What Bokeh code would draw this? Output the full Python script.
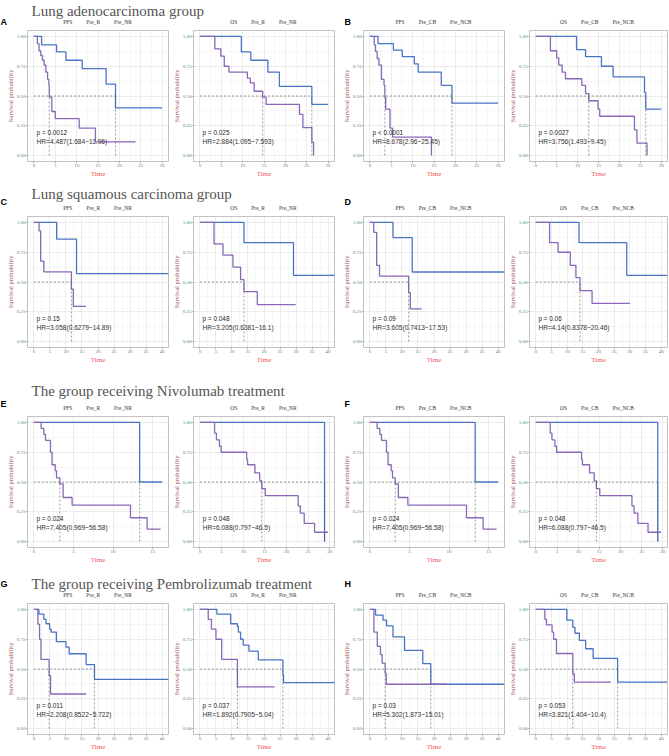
from bokeh.plotting import figure
from bokeh.layouts import column, row
from bokeh.models import Legend, LegendItem, Label, Range1d, FixedTicker, PrintfTickFormatter
from bokeh.embed import file_html
from bokeh.resources import INLINE

# ---------------- data ----------------
group_titles = ["Lung adenocarcinoma group", "Lung squamous carcinoma group",
                "The group receiving Nivolumab treatment", "The group receiving Pembrolizumab treatment"]
labels_R = ["Pre_R", "Pre_NR"]
labels_CB = ["Pre_CB", "Pre_NCB"]
y_ticks = [0, 0.25, 0.5, 0.75, 1.0]
x_ticks_30 = [0, 5, 10, 15, 20, 25, 30]
x_ticks_40 = [0, 5, 10, 15, 20, 25, 30, 35, 40]
x_ticks_15 = [0, 5, 10, 15]

# A  (lung adenocarcinoma, responders)
A_PFS_R_t = [0, 1.8, 5.3, 7.5, 11.3, 16.9, 19.1, 30]
A_PFS_R_s = [1, 0.93, 0.87, 0.80, 0.73, 0.60, 0.40, 0.40]
A_PFS_NR_t = [0, 0.8, 1.2, 1.6, 2.0, 2.4, 2.8, 3.2, 3.5, 3.6, 4.2, 5.0, 10.6, 14.4, 23.8]
A_PFS_NR_s = [1, 0.94, 0.88, 0.84, 0.80, 0.76, 0.70, 0.64, 0.59, 0.49, 0.37, 0.31, 0.23, 0.115, 0.115]
A_OS_R_t = [0, 9.7, 11.9, 15.9, 18.6, 26.2, 30]
A_OS_R_s = [1, 0.87, 0.80, 0.70, 0.58, 0.43, 0.43]
A_OS_NR_t = [0, 3.5, 4.9, 5.7, 6.8, 11.1, 11.8, 12.7, 14.7, 15.5, 23.3, 24.1, 26.2, 26.6]
A_OS_NR_s = [1, 0.895, 0.835, 0.75, 0.70, 0.65, 0.61, 0.54, 0.49, 0.43, 0.345, 0.235, 0.11, 0.0]
# B  (lung adenocarcinoma, clinical benefit)
B_PFS_CB_t = [0, 1.9, 5.5, 7.6, 10.4, 11.3, 16.7, 19.2, 30]
B_PFS_CB_s = [1, 0.94, 0.885, 0.83, 0.77, 0.70, 0.59, 0.44, 0.44]
B_PFS_NCB_t = [0, 1.0, 1.3, 1.7, 2.1, 2.7, 3.3, 3.5, 3.7, 4.7, 5.3, 14.4]
B_PFS_NCB_s = [1, 0.93, 0.875, 0.815, 0.76, 0.64, 0.59, 0.49, 0.39, 0.23, 0.155, 0.0]
B_OS_CB_t = [0, 9.75, 11.9, 15.7, 18.5, 26.0, 26.3, 30]
B_OS_CB_s = [1, 0.89, 0.83, 0.75, 0.66, 0.53, 0.39, 0.39]
B_OS_NCB_t = [0, 3.5, 5.0, 5.5, 6.3, 7.1, 11.0, 11.9, 12.7, 14.9, 15.3, 23.6, 24.2, 26.6]
B_OS_NCB_s = [1, 0.88, 0.82, 0.76, 0.70, 0.645, 0.59, 0.52, 0.46, 0.39, 0.33, 0.215, 0.105, 0.0]
# C  (lung squamous, responders)
C_PFS_R_t = [0, 7.1, 13.3, 42]
C_PFS_R_s = [1, 0.86, 0.57, 0.57]
C_PFS_NR_t = [0, 1.6, 2.1, 3.1, 11.7, 12.3, 16.2]
C_PFS_NR_s = [1, 0.93, 0.675, 0.585, 0.44, 0.295, 0.295]
C_OS_R_t = [0, 13.75, 29.2, 42]
C_OS_R_s = [1, 0.83, 0.556, 0.556]
C_OS_NR_t = [0, 4.4, 7.2, 10.3, 12.7, 13.75, 17.9, 29.9]
C_OS_NR_s = [1, 0.82, 0.725, 0.625, 0.52, 0.42, 0.31, 0.31]
# D  (lung squamous, clinical benefit)
D_PFS_CB_t = [0, 7.2, 13.2, 42]
D_PFS_CB_s = [1, 0.873, 0.584, 0.584]
D_PFS_NCB_t = [0, 1.2, 2.1, 3.0, 12.1, 12.6, 16.2]
D_PFS_NCB_s = [1, 0.917, 0.64, 0.55, 0.41, 0.275, 0.275]
D_OS_CB_t = [0, 13.8, 29.0, 42]
D_OS_CB_s = [1, 0.83, 0.556, 0.556]
D_OS_NCB_t = [0, 4.4, 7.1, 11.0, 12.8, 14.1, 17.95, 30]
D_OS_NCB_s = [1, 0.83, 0.75, 0.64, 0.537, 0.427, 0.32, 0.32]
# E  (nivolumab, responders)
E_PFS_R_t = [0, 13.36, 16.2]
E_PFS_R_s = [1, 0.5, 0.5]
E_PFS_NR_t = [0, 0.92, 1.26, 1.47, 2.1, 2.3, 2.7, 2.86, 3.28, 3.7, 4.83, 12.2, 14.3, 16.0]
E_PFS_NR_s = [1, 0.95, 0.90, 0.85, 0.75, 0.645, 0.596, 0.535, 0.485, 0.37, 0.305, 0.20, 0.105, 0.105]
E_OS_R_t = [0, 28.8]
E_OS_R_s = [1, 0.0]
E_OS_NR_t = [0, 3.37, 3.8, 4.5, 4.9, 10.8, 11.0, 12.7, 13.8, 14.3, 15.1, 22.7, 23.2, 24.1, 26.5, 29.6]
E_OS_NR_s = [1, 0.91, 0.853, 0.80, 0.75, 0.69, 0.645, 0.576, 0.51, 0.445, 0.385, 0.30, 0.238, 0.152, 0.078, 0.078]
# F  (nivolumab, clinical benefit)
F_PFS_CB_t = [0, 13.3, 16.2]
F_PFS_CB_s = [1, 0.5, 0.5]
F_PFS_NCB_t = [0, 0.92, 1.26, 1.47, 2.1, 2.3, 2.7, 2.86, 3.2, 3.6, 4.8, 12.2, 14.3, 16.0]
F_PFS_NCB_s = [1, 0.95, 0.90, 0.85, 0.75, 0.645, 0.596, 0.535, 0.485, 0.37, 0.305, 0.20, 0.105, 0.105]
F_OS_CB_t = [0, 28.8]
F_OS_CB_s = [1, 0.0]
F_OS_NCB_t = [0, 3.4, 3.8, 4.5, 4.9, 10.8, 11.0, 12.7, 13.8, 14.3, 15.1, 22.7, 23.2, 24.1, 26.5, 29.6]
F_OS_NCB_s = [1, 0.91, 0.853, 0.80, 0.75, 0.69, 0.645, 0.576, 0.51, 0.445, 0.385, 0.30, 0.238, 0.152, 0.078, 0.078]
# G  (pembrolizumab, responders)
G_PFS_R_t = [0, 1.55, 3.1, 3.8, 4.9, 5.4, 7.0, 10.0, 11.0, 16.3, 18.9, 42]
G_PFS_R_s = [1, 0.96, 0.917, 0.88, 0.835, 0.81, 0.73, 0.683, 0.628, 0.537, 0.413, 0.413]
G_PFS_NR_t = [0, 1.24, 1.76, 2.2, 4.75, 5.2, 16.3]
G_PFS_NR_s = [1, 0.876, 0.75, 0.58, 0.444, 0.29, 0.29]
G_OS_R_t = [0, 5.3, 9.6, 11.7, 12.0, 12.7, 13.5, 15.3, 18.2, 25.9, 26.1, 42]
G_OS_R_s = [1, 0.96, 0.88, 0.857, 0.81, 0.75, 0.70, 0.65, 0.576, 0.45, 0.386, 0.386]
G_OS_NR_t = [0, 2.6, 3.6, 5.0, 6.8, 11.7, 23.3]
G_OS_NR_s = [1, 0.917, 0.835, 0.75, 0.58, 0.35, 0.35]
# H  (pembrolizumab, clinical benefit)
H_PFS_CB_t = [0, 1.76, 4.1, 5.2, 7.2, 10.8, 16.5, 19.0, 42]
H_PFS_CB_s = [1, 0.953, 0.91, 0.862, 0.77, 0.656, 0.545, 0.372, 0.372]
H_PFS_NCB_t = [0, 1.24, 2.3, 3.3, 3.8, 4.75, 5.1, 23.8]
H_PFS_NCB_s = [1, 0.81, 0.69, 0.62, 0.55, 0.463, 0.372, 0.372]
H_OS_CB_t = [0, 9.9, 11.8, 12.5, 13.9, 15.9, 18.3, 26.1, 42]
H_OS_CB_s = [1, 0.91, 0.85, 0.80, 0.74, 0.67, 0.59, 0.39, 0.39]
H_OS_NCB_t = [0, 2.9, 3.4, 5.2, 5.7, 6.6, 11.8, 12.3, 24.0]
H_OS_NCB_s = [1, 0.917, 0.87, 0.81, 0.75, 0.63, 0.46, 0.39, 0.39]

p_values = ["p = 0.0012", "p = 0.025", "p < 0.0001", "p = 0.0027",
            "p = 0.15", "p = 0.048", "p = 0.09", "p = 0.06",
            "p = 0.024", "p = 0.048", "p = 0.024", "p = 0.048",
            "p = 0.011", "p = 0.037", "p = 0.03", "p = 0.053"]
hr_texts = ["HR=4.487(1.684~11.96)", "HR=2.884(1.095~7.593)", "HR=8.678(2.96~25.45)", "HR=3.756(1.493~9.45)",
            "HR=3.058(0.6279~14.89)", "HR=3.205(0.6381~16.1)", "HR=3.605(0.7413~17.53)", "HR=4.14(0.8378~20.46)",
            "HR=7.405(0.969~56.58)", "HR=6.088(0.797~46.5)", "HR=7.405(0.969~56.58)", "HR=6.088(0.797~46.5)",
            "HR=2.208(0.8522~5.722)", "HR=1.892(0.7905~5.04)", "HR=5.302(1.873~15.01)", "HR=3.821(1.404~10.4)"]

# ---------------- style ----------------
SERIF = "Liberation Serif"
SANS = "Liberation Sans"
BLUE = "#4a74c6"
PURPLE = "#8a67b9"
TICK_COL = "#4f8a5c"
YLAB_COL = "#a5524e"
XLAB_COL = "#f0555a"
FRAME_H = 131
TOP = 3
BOTTOM = 20
TOTAL_W = 668
COLS = [dict(width=169, left=27, right=1), dict(width=166, left=24, right=1),
        dict(width=170, left=28, right=1), dict(width=163, left=22, right=1)]
HEADER_H = [27, 32, 46, 33]

LEG_FS = 5.5
LEG_GLYPH = 5
LEG_STANDOFF = 3
LEG_SPACING = 6
# Times-like advance widths (per 1000 em) for the legend strings
_W = {"P": 556, "F": 556, "S": 556, "O": 722, "r": 333, "e": 444, "_": 500,
      "R": 667, "N": 722, "C": 667, "B": 667}


def text_w(s):
    return sum(_W.get(ch, 500) for ch in s) / 1000 * LEG_FS


def median_time(t, s):
    for ti, si in zip(t, s):
        if si <= 0.5:
            return ti
    return None


def minors(ticks):
    return [(a + b) / 2 for a, b in zip(ticks[:-1], ticks[1:])]


def panel(ci, curves, xr, xticks, ptxt, hrtxt):
    c = COLS[ci]
    p = figure(width=c["width"], height=TOP + FRAME_H + BOTTOM,
               x_range=Range1d(*xr), y_range=Range1d(-0.05, 1.05),
               min_border_left=c["left"], min_border_right=c["right"],
               min_border_top=TOP, min_border_bottom=BOTTOM,
               toolbar_location=None, output_backend="svg")
    p.outline_line_color = "#c2c2c2"
    p.outline_line_width = 1
    p.xaxis.ticker = FixedTicker(ticks=xticks, minor_ticks=minors(xticks))
    p.yaxis.ticker = FixedTicker(ticks=y_ticks, minor_ticks=minors(y_ticks))
    p.yaxis.formatter = PrintfTickFormatter(format="%.2f")
    for g in (p.xgrid[0], p.ygrid[0]):
        g.grid_line_color = "#e4e4e4"
        g.grid_line_width = 0.7
        g.minor_grid_line_color = "#efefef"
        g.minor_grid_line_width = 0.5
    for ax in (p.xaxis[0], p.yaxis[0]):
        ax.axis_line_color = None
        ax.major_tick_line_color = "#777777"
        ax.major_tick_line_width = 0.5
        ax.major_tick_out = 2
        ax.major_tick_in = 0
        ax.minor_tick_line_color = None
        ax.minor_tick_out = 0
        ax.minor_tick_in = 0
        ax.major_label_text_font = SERIF
        ax.major_label_text_font_size = "5px"
        ax.major_label_text_color = TICK_COL
        ax.major_label_standoff = 0
        ax.axis_label_text_font = SERIF
        ax.axis_label_text_font_style = "normal"
        ax.axis_label_standoff = 0
    p.xaxis.axis_label = "Time"
    p.xaxis.axis_label_text_font_size = "7px"
    p.xaxis.axis_label_text_color = XLAB_COL
    p.yaxis.axis_label = "Survival probability"
    p.yaxis.axis_label_text_font_size = "6.6px"
    p.yaxis.axis_label_text_color = YLAB_COL

    for (t, s), col in zip(curves, (BLUE, PURPLE)):
        p.step(t, s, mode="after", line_color=col, line_width=1.3)

    meds = [m for m in (median_time(t, s) for t, s in curves) if m is not None]
    if meds:
        p.line([0, max(meds)], [0.5, 0.5], line_color="#555555", line_width=0.6, line_dash="2 2")
        for m in meds:
            p.line([m, m], [0, 0.5], line_color="#555555", line_width=0.6, line_dash="2 2")

    xt = xr[1] * 0.02
    p.add_layout(Label(x=xt, y=0.19, text=ptxt, text_font=SANS, text_font_size="6.4px",
                       text_baseline="middle", text_color="#222222"))
    p.add_layout(Label(x=xt, y=0.118, text=hrtxt, text_font=SANS, text_font_size="6.6px",
                       text_baseline="middle", text_color="#333333"))
    return p


def header(h, title, title_y, legend_specs, letters, letter_y, legend_y=1.8):
    p = figure(width=TOTAL_W, height=h, x_range=Range1d(0, TOTAL_W), y_range=Range1d(0, h),
               x_axis_type=None, y_axis_type=None, min_border=0,
               toolbar_location=None, output_backend="svg")
    p.outline_line_color = None
    p.add_layout(Label(x=31, y=title_y, text=title, text_font=SERIF, text_font_size="15px",
                       text_baseline="middle", text_color="#555555"))
    for lx, lt in zip((0, 344), letters):
        p.add_layout(Label(x=lx, y=letter_y, text=lt, text_font=SANS, text_font_style="bold",
                           text_font_size="9px", text_baseline="middle", text_color="#000000"))
    # one legend row per panel column, centred over that panel's frame
    start = 0
    for c, (ltitle, labels) in zip(COLS, legend_specs):
        frame_w = c["width"] - c["left"] - c["right"]
        center = start + c["left"] + frame_w / 2
        start += c["width"]
        dummy = p.line([], [], line_alpha=0)
        k0 = p.line([], [], line_color=BLUE, line_width=1.3)
        k1 = p.line([], [], line_color=PURPLE, line_width=1.3)
        item_w = LEG_GLYPH + LEG_STANDOFF
        visible_w = (text_w(ltitle) + LEG_SPACING + item_w + text_w(labels[0])
                     + LEG_SPACING + item_w + text_w(labels[1]))
        lx = center - visible_w / 2 - item_w
        legend = Legend(items=[LegendItem(label=ltitle, renderers=[dummy]),
                               LegendItem(label=labels[0], renderers=[k0]),
                               LegendItem(label=labels[1], renderers=[k1])],
                        orientation="horizontal", location=(lx, legend_y),
                        label_text_font=SERIF, label_text_font_size=f"{LEG_FS}px", label_text_color="#333333",
                        glyph_width=LEG_GLYPH, glyph_height=5, label_standoff=LEG_STANDOFF,
                        spacing=LEG_SPACING, label_height=6, label_width=1, padding=0, margin=0,
                        border_line_color=None, background_fill_alpha=0)
        p.add_layout(legend)
    return p


XR30 = (-1.5, 31.5)
XR40 = (-2.0, 42.0)
XR15 = (-0.8, 17.0)
XR29 = (-1.5, 31.1)

SPEC_R = [("PFS", labels_R), ("OS", labels_R), ("PFS", labels_CB), ("OS", labels_CB)]

h1 = header(HEADER_H[0], group_titles[0], 16.5, SPEC_R, ["A", "B"], 5.7)
r1 = row(
    panel(0, [(A_PFS_R_t, A_PFS_R_s), (A_PFS_NR_t, A_PFS_NR_s)], XR30, x_ticks_30, p_values[0], hr_texts[0]),
    panel(1, [(A_OS_R_t, A_OS_R_s), (A_OS_NR_t, A_OS_NR_s)], XR30, x_ticks_30, p_values[1], hr_texts[1]),
    panel(2, [(B_PFS_CB_t, B_PFS_CB_s), (B_PFS_NCB_t, B_PFS_NCB_s)], XR30, x_ticks_30, p_values[2], hr_texts[2]),
    panel(3, [(B_OS_CB_t, B_OS_CB_s), (B_OS_NCB_t, B_OS_NCB_s)], XR30, x_ticks_30, p_values[3], hr_texts[3]),
)
h2 = header(HEADER_H[1], group_titles[1], 19.5, SPEC_R, ["C", "D"], 11.5)
r2 = row(
    panel(0, [(C_PFS_R_t, C_PFS_R_s), (C_PFS_NR_t, C_PFS_NR_s)], XR40, x_ticks_40, p_values[4], hr_texts[4]),
    panel(1, [(C_OS_R_t, C_OS_R_s), (C_OS_NR_t, C_OS_NR_s)], XR40, x_ticks_40, p_values[5], hr_texts[5]),
    panel(2, [(D_PFS_CB_t, D_PFS_CB_s), (D_PFS_NCB_t, D_PFS_NCB_s)], XR40, x_ticks_40, p_values[6], hr_texts[6]),
    panel(3, [(D_OS_CB_t, D_OS_CB_s), (D_OS_NCB_t, D_OS_NCB_s)], XR40, x_ticks_40, p_values[7], hr_texts[7]),
)
h3 = header(HEADER_H[2], group_titles[2], 23, SPEC_R, ["E", "F"], 9.3)
r3 = row(
    panel(0, [(E_PFS_R_t, E_PFS_R_s), (E_PFS_NR_t, E_PFS_NR_s)], XR15, x_ticks_15, p_values[8], hr_texts[8]),
    panel(1, [(E_OS_R_t, E_OS_R_s), (E_OS_NR_t, E_OS_NR_s)], XR29, x_ticks_30, p_values[9], hr_texts[9]),
    panel(2, [(F_PFS_CB_t, F_PFS_CB_s), (F_PFS_NCB_t, F_PFS_NCB_s)], XR15, x_ticks_15, p_values[10], hr_texts[10]),
    panel(3, [(F_OS_CB_t, F_OS_CB_s), (F_OS_NCB_t, F_OS_NCB_s)], XR29, x_ticks_30, p_values[11], hr_texts[11]),
)
h4 = header(HEADER_H[3], group_titles[3], 17, SPEC_R, ["G", "H"], 16.2)
r4 = row(
    panel(0, [(G_PFS_R_t, G_PFS_R_s), (G_PFS_NR_t, G_PFS_NR_s)], XR40, x_ticks_40, p_values[12], hr_texts[12]),
    panel(1, [(G_OS_R_t, G_OS_R_s), (G_OS_NR_t, G_OS_NR_s)], XR40, x_ticks_40, p_values[13], hr_texts[13]),
    panel(2, [(H_PFS_CB_t, H_PFS_CB_s), (H_PFS_NCB_t, H_PFS_NCB_s)], XR40, x_ticks_40, p_values[14], hr_texts[14]),
    panel(3, [(H_OS_CB_t, H_OS_CB_s), (H_OS_NCB_t, H_OS_NCB_s)], XR40, x_ticks_40, p_values[15], hr_texts[15]),
)

layout = column(h1, r1, h2, r2, h3, r3, h4, r4, spacing=0)
open("out.html", "w").write(file_html(layout, INLINE, title="KM curves"))
